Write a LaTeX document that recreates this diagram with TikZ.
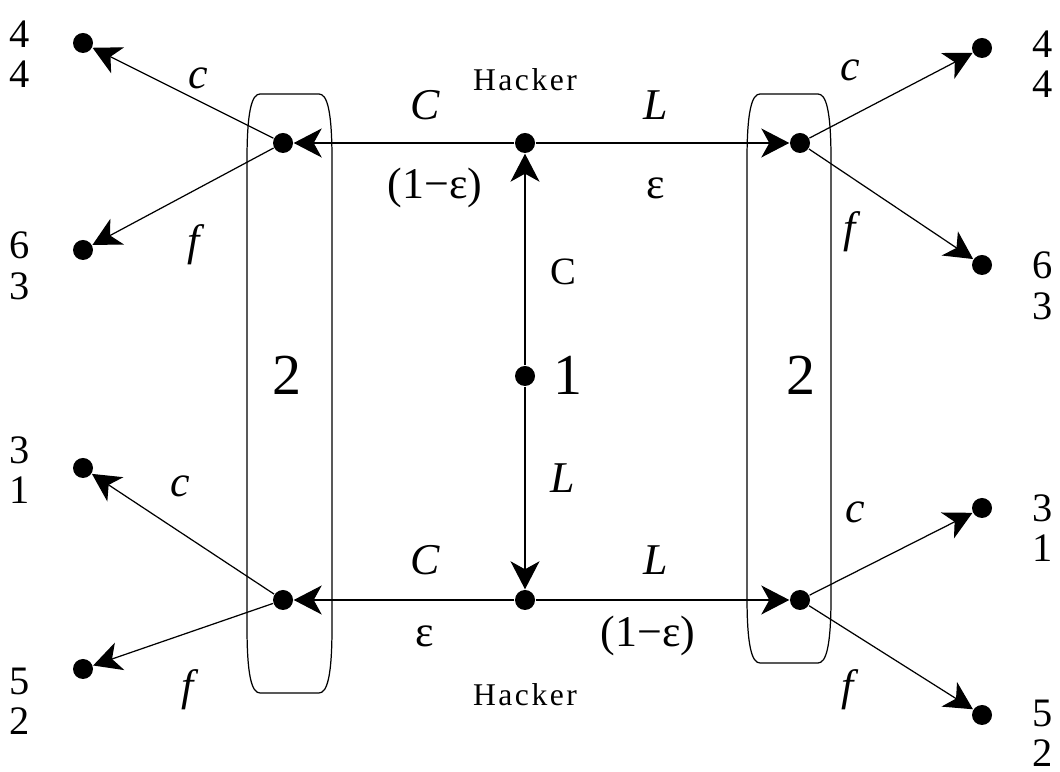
\documentclass[tikz,border=0pt]{standalone}
\usepackage{fontspec}
\setmainfont{Liberation Serif}
\newfontfamily\spacedfont[LetterSpace=8]{Liberation Serif}
\usetikzlibrary{arrows.meta,positioning}

\begin{document}
\begin{tikzpicture}[every node/.style={font=\fontsize{12.5}{14}\selectfont},
  dot/.style={circle,fill=black,inner sep=0pt,minimum size=2mm},
  move/.style={-{Stealth[length=2.8mm,width=2.9mm,inset=0.8mm]},line width=0.35pt},
  pay/.style={align=center,font=\fontsize{11.5}{11.5}\selectfont},
  big/.style={font=\fontsize{16.5}{18}\selectfont}]
\useasboundingbox (0,0) rectangle (10.6,-7.72);
% information sets of player 2
\foreach \xl/\xr/\yb in {2.47/3.32/6.93, 7.47/8.31/6.63}
  \draw[line width=0.35pt] (\xl,-1.60) .. controls (\xl,-1.10) and ({\xl+0.05},-0.94) .. ({\xl+0.13},-0.94)
    -- ({\xr-0.13},-0.94) .. controls ({\xr-0.05},-0.94) and (\xr,-1.10) .. (\xr,-1.60)
    -- (\xr,{-\yb+0.66}) .. controls (\xr,{-\yb+0.16}) and ({\xr-0.05},-\yb) .. ({\xr-0.13},-\yb)
    -- ({\xl+0.13},-\yb) .. controls ({\xl+0.05},-\yb) and (\xl,{-\yb+0.16}) .. (\xl,{-\yb+0.66}) -- cycle;
% decision nodes
\node[dot] (root) at (5.25,-3.76) {};
\node[dot] (htop) at (5.25,-1.43) {};
\node[dot] (hbot) at (5.25,-6.00) {};
\node[dot] (lt) at (2.83,-1.43) {};
\node[dot] (rt) at (8.00,-1.43) {};
\node[dot] (lb) at (2.83,-6.00) {};
\node[dot] (rb) at (8.00,-6.00) {};
% terminal nodes
\node[dot] (ltc) at (0.83,-0.43) {};
\node[dot] (ltf) at (0.83,-2.50) {};
\node[dot] (lbc) at (0.83,-4.68) {};
\node[dot] (lbf) at (0.83,-6.69) {};
\node[dot] (rtc) at (9.82,-0.48) {};
\node[dot] (rtf) at (9.82,-2.65) {};
\node[dot] (rbc) at (9.82,-5.08) {};
\node[dot] (rbf) at (9.82,-7.15) {};
% moves
\draw[move] (root) -- (htop);
\draw[move] (root) -- (hbot);
\draw[move] (htop) -- (lt);
\draw[move] (htop) -- (rt);
\draw[move] (hbot) -- (lb);
\draw[move] (hbot) -- (rb);
\foreach \s/\t in {lt/ltc, lt/ltf, lb/lbc, lb/lbf, rt/rtc, rt/rtf, rb/rbc, rb/rbf}
  \draw[move] (\s) -- (\t);
% labels
\node[font=\fontsize{9}{10}\spacedfont] (hacktop) at (5.25,-0.80) {Hacker};
\node[font=\fontsize{9}{10}\spacedfont] (hackbot) at (5.25,-6.95) {Hacker};
\node (ctop) at (4.25,-1.05) {\textit{C}};
\node (ltop) at (6.56,-1.05) {\textit{L}};
\node (etop1) at (4.35,-1.88) {(1−ε)};
\node (etop2) at (6.56,-1.88) {ε};
\node (cbot) at (4.25,-5.60) {\textit{C}};
\node (lbot) at (6.56,-5.60) {\textit{L}};
\node (ebot1) at (4.25,-6.36) {ε};
\node (ebot2) at (6.48,-6.36) {(1−ε)};
\node[font=\fontsize{11}{13}\selectfont] (croot) at (5.63,-2.72) {C};
\node (lroot) at (5.63,-4.78) {\textit{L}};
\node[big] (one) at (5.68,-3.75) {1};
\node[big] (twol) at (2.87,-3.75) {2};
\node[big] (twor) at (8.01,-3.75) {2};
\node (lblc1) at (1.98,-0.78) {\textit{c}};
\node (lblf1) at (1.96,-2.45) {\textit{f}};
\node (lblc2) at (1.80,-4.86) {\textit{c}};
\node (lblf2) at (1.90,-6.90) {\textit{f}};
\node (lblc3) at (8.50,-0.70) {\textit{c}};
\node (lblf3) at (8.52,-2.32) {\textit{f}};
\node (lblc4) at (8.55,-5.12) {\textit{c}};
\node (lblf4) at (8.50,-6.90) {\textit{f}};
% payoffs
\node[pay] (pay1) at (0.20,-0.54) {4\\4};
\node[pay] (pay2) at (0.20,-2.66) {6\\3};
\node[pay] (pay3) at (0.20,-4.70) {3\\1};
\node[pay] (pay4) at (0.20,-7.01) {5\\2};
\node[pay] (pay5) at (10.43,-0.64) {4\\4};
\node[pay] (pay6) at (10.43,-2.86) {6\\3};
\node[pay] (pay7) at (10.43,-5.28) {3\\1};
\node[pay] (pay8) at (10.43,-7.33) {5\\2};
\end{tikzpicture}
\end{document}
